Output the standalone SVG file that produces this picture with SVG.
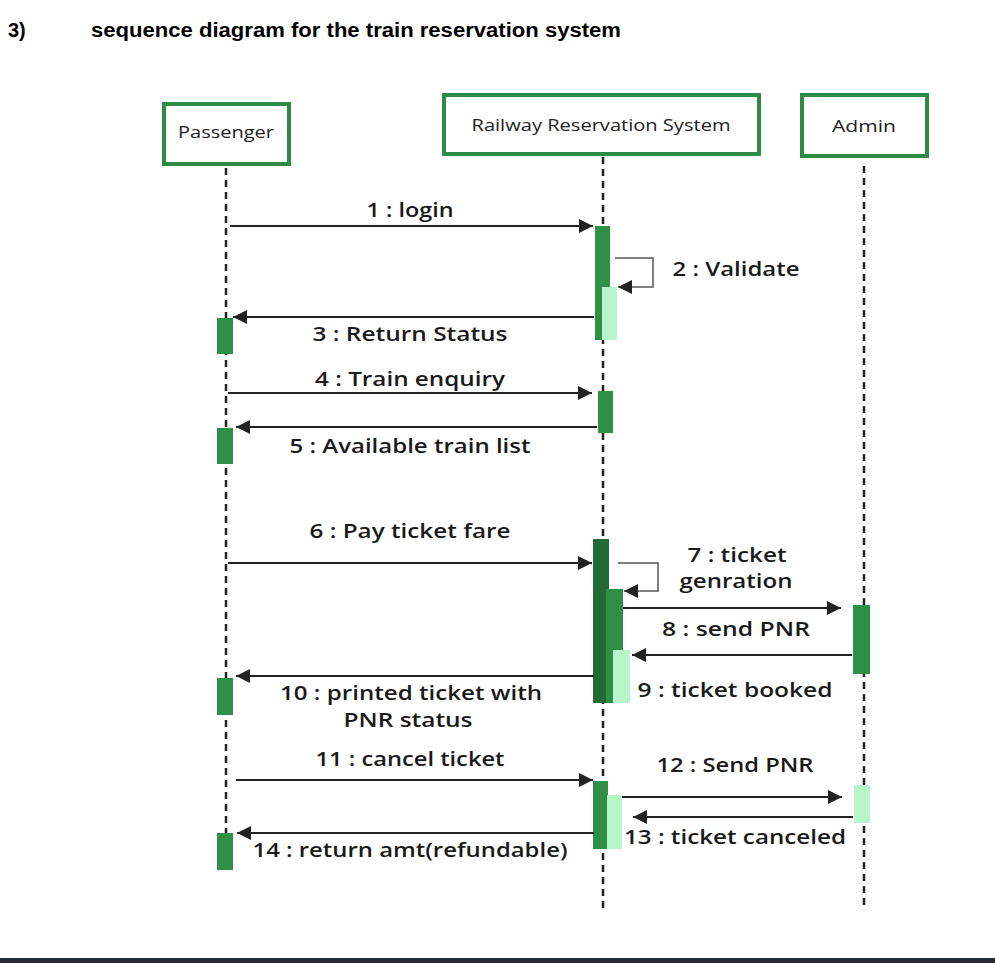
<svg xmlns="http://www.w3.org/2000/svg" width="995" height="963" viewBox="0 0 995 963">
<style>
.box{fill:#fff;stroke:#2f8a46;stroke-width:4}
.head{font-family:"Open Sans","Liberation Sans",sans-serif;font-size:16px;font-weight:500;fill:#222;text-anchor:middle}
.life{stroke:#222;stroke-width:2.5;stroke-dasharray:7 5;fill:none}
.act{fill:#2f8f47}
.actd{fill:#236b35}
.actl{fill:#b8f5cb}
.msg{stroke:#222;stroke-width:2.2;fill:none;marker-end:url(#ah)}
.self{stroke:#555;stroke-width:1.5;fill:none;marker-end:url(#ah)}
.lbl{font-family:"Open Sans","Liberation Sans",sans-serif;font-size:19px;font-weight:600;fill:#1a1a1a;text-anchor:middle}
.ttl{font-family:"Liberation Sans",sans-serif;font-size:20px;font-weight:bold;fill:#000}
</style>
<defs>
<marker id="ah" markerUnits="userSpaceOnUse" markerWidth="15" markerHeight="15" refX="14" refY="7" orient="auto">
<path d="M0,0 L14,7 L0,14 z" fill="#222"/>
</marker>
</defs>
<rect x="0" y="0" width="995" height="963" fill="#fff"/>
<text class="ttl" x="8" y="37">3)</text>
<text class="ttl" x="91" y="37" textLength="530" lengthAdjust="spacingAndGlyphs">sequence diagram for the train reservation system</text>

<g id="passenger">
<line class="life" x1="226" y1="168" x2="226" y2="833"/>
<rect class="box" x="164" y="104" width="125" height="60"/>
<text class="head" x="226" y="138" textLength="96" lengthAdjust="spacingAndGlyphs">Passenger</text>
<rect class="act" x="217" y="318" width="16" height="36"/>
<rect class="act" x="217" y="428" width="16" height="36"/>
<rect class="act" x="217" y="678" width="16" height="37"/>
<rect class="act" x="217" y="833" width="16" height="37"/>
</g>

<g id="railway">
<line class="life" x1="603" y1="157" x2="603" y2="910"/>
<rect class="box" x="444" y="95" width="315" height="59"/>
<text class="head" x="601" y="131" textLength="259" lengthAdjust="spacingAndGlyphs">Railway Reservation System</text>
<rect class="act" x="595" y="226" width="15" height="114"/>
<rect class="actl" x="602" y="287" width="15" height="53"/>
<rect class="act" x="598" y="391" width="15" height="42"/>
<rect class="actd" x="593" y="539" width="16" height="164"/>
<rect class="act" x="606" y="589" width="17" height="114"/>
<rect class="actl" x="613" y="650" width="17" height="53"/>
<rect class="act" x="593" y="781" width="15" height="68"/>
<rect class="actl" x="607" y="795" width="15" height="54"/>
</g>

<g id="admin">
<line class="life" x1="864" y1="166" x2="864" y2="908"/>
<rect class="box" x="802" y="95" width="125" height="61"/>
<text class="head" x="864" y="132" textLength="64" lengthAdjust="spacingAndGlyphs">Admin</text>
<rect class="act" x="853" y="605" width="17" height="69"/>
<rect class="actl" x="854" y="785" width="16" height="38"/>
</g>

<g id="connectors">
<line class="msg" x1="230" y1="226" x2="593" y2="226"/>
<path class="self" d="M615,258 H653 V287 H618"/>
<line class="msg" x1="594" y1="317" x2="233" y2="317"/>
<line class="msg" x1="228" y1="393" x2="592" y2="393"/>
<line class="msg" x1="597" y1="427" x2="236" y2="427"/>
<line class="msg" x1="228" y1="563" x2="592" y2="563"/>
<path class="self" d="M618,563 H658 V591 H624"/>
<line class="msg" x1="623" y1="608" x2="841" y2="608"/>
<line class="msg" x1="852" y1="655" x2="632" y2="655"/>
<line class="msg" x1="594" y1="676" x2="236" y2="676"/>
<line class="msg" x1="236" y1="780" x2="593" y2="780"/>
<line class="msg" x1="622" y1="797" x2="842" y2="797"/>
<line class="msg" x1="853" y1="817" x2="633" y2="817"/>
<line class="msg" x1="594" y1="833" x2="237" y2="833"/>
</g>

<g id="labels">
<text class="lbl" x="410" y="217" textLength="87" lengthAdjust="spacingAndGlyphs">1 : login</text>
<text class="lbl" x="736" y="276" textLength="127" lengthAdjust="spacingAndGlyphs">2 : Validate</text>
<text class="lbl" x="410" y="341" textLength="195" lengthAdjust="spacingAndGlyphs">3 : Return Status</text>
<text class="lbl" x="410" y="386" textLength="190" lengthAdjust="spacingAndGlyphs">4 : Train enquiry</text>
<text class="lbl" x="410" y="453" textLength="241" lengthAdjust="spacingAndGlyphs">5 : Available train list</text>
<text class="lbl" x="410" y="538" textLength="201" lengthAdjust="spacingAndGlyphs">6 : Pay ticket fare</text>
<text class="lbl" x="737" y="562" textLength="99" lengthAdjust="spacingAndGlyphs">7 : ticket</text>
<text class="lbl" x="736" y="588" textLength="113" lengthAdjust="spacingAndGlyphs">genration</text>
<text class="lbl" x="736" y="636" textLength="148" lengthAdjust="spacingAndGlyphs">8 : send PNR</text>
<text class="lbl" x="735" y="697" textLength="195" lengthAdjust="spacingAndGlyphs">9 : ticket booked</text>
<text class="lbl" x="411" y="700" textLength="262" lengthAdjust="spacingAndGlyphs">10 : printed ticket with</text>
<text class="lbl" x="408" y="727" textLength="129" lengthAdjust="spacingAndGlyphs">PNR status</text>
<text class="lbl" x="410" y="766" textLength="189" lengthAdjust="spacingAndGlyphs">11 : cancel ticket</text>
<text class="lbl" x="735" y="772" textLength="157" lengthAdjust="spacingAndGlyphs">12 : Send PNR</text>
<text class="lbl" x="735" y="844" textLength="222" lengthAdjust="spacingAndGlyphs">13 : ticket canceled</text>
<text class="lbl" x="410" y="857" textLength="315" lengthAdjust="spacingAndGlyphs">14 : return amt(refundable)</text>
</g>

<rect x="0" y="958" width="995" height="5" fill="#232a33"/>
</svg>
